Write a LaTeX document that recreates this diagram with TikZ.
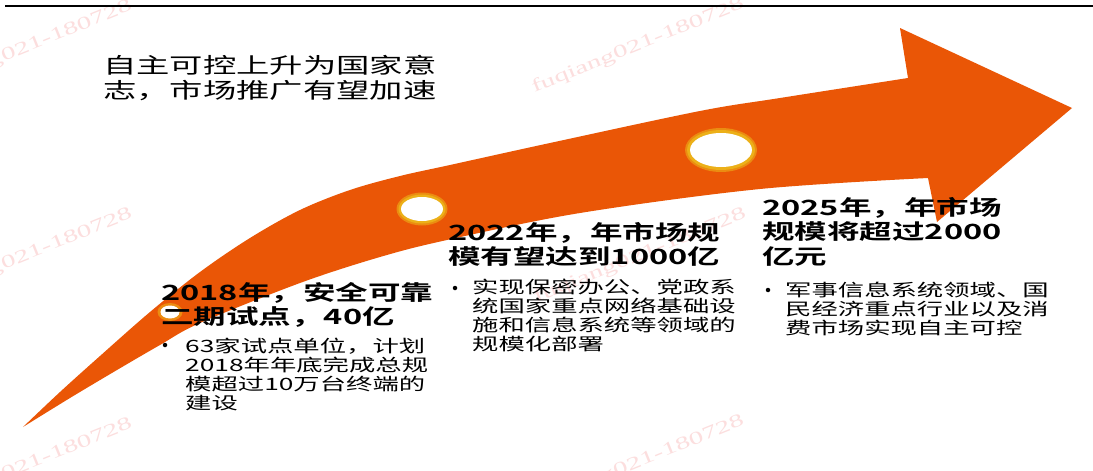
\documentclass[tikz,border=0pt]{standalone}
\usepackage{fontspec}
\newfontfamily\cjk[FakeStretch=1.55]{Noto Sans CJK SC}
\newfontfamily\cjkb[FakeStretch=1.55]{Noto Sans CJK SC Bold}
\newfontfamily\wmfont[FakeStretch=1.6]{Liberation Serif}
\definecolor{arrowc}{RGB}{234,86,6}
\definecolor{ringc}{RGB}{236,176,24}
\definecolor{wmc}{RGB}{252,222,222}
\tikzset{
  titlebox/.style={anchor=north west, inner sep=0pt, align=left, font=\cjk\fontsize{21.5}{25}\selectfont},
  headbox/.style={anchor=north west, inner sep=0pt, align=left, font=\cjkb\fontsize{21}{24.5}\selectfont},
  bodybox/.style={anchor=north west, inner sep=0pt, align=left, font=\cjk\fontsize{17}{19}\selectfont},
  bulletdot/.style={circle, fill=black, inner sep=0pt, minimum size=4.5pt},
  wmark/.style={rotate=22, text=wmc, font=\wmfont\fontsize{18}{18}\selectfont, inner sep=0pt},
}
\begin{document}
\begin{tikzpicture}[x=1pt,y=-1pt]
\useasboundingbox (0,0) rectangle (1093,471);
\fill[white] (0,0) rectangle (1093,471);
% watermarks
\begin{scope}
\clip (0,0) rectangle (1093,471);
\node[wmark] (w1) at (26,48) {fuqiang021-180728};
\node[wmark] (w2) at (638,46) {fuqiang021-180728};
\node[wmark] (w3) at (26,256) {fuqiang021-180728};
\node[wmark] (w4) at (640,256) {fuqiang021-180728};
\node[wmark] (w5) at (26,466) {fuqiang021-180728};
\node[wmark] (w6) at (638,463) {fuqiang021-180728};
\end{scope}
% top rule
\draw[line width=1.8pt] (5,6) -- (1093,6);
% big curved arrow
\fill[arrowc] plot[smooth, tension=0.55] coordinates {(23,427) (60,392) (100,356) (150,312) (200,272) (250,238) (300,210) (350,190) (400,176) (450,165) (550,143) (700,111) (780,98) (908,78)}
  -- (900,28) -- (1072,108) -- (937,222) -- (928,178)
  -- plot[smooth, tension=0.55] coordinates {(928,178) (760,189) (580,213) (447,240) (380,257) (300,283) (200,323) (160,345) (117,370) (70,398) (23,427)} -- cycle;
% circles
\fill[arrowc!40!ringc] (170,312) ellipse [x radius=12.5, y radius=9];
\fill[white] (170,312) ellipse [x radius=9.5, y radius=6.5];
\fill[arrowc!40!ringc] (422,209) ellipse [x radius=25.5, y radius=16.5];
\fill[ringc] (422,209) ellipse [x radius=23.5, y radius=14.5];
\fill[white] (422,209) ellipse [x radius=21, y radius=12];
\fill[arrowc!40!ringc] (721,150) ellipse [x radius=36, y radius=22];
\fill[ringc] (721,150) ellipse [x radius=34, y radius=20];
\fill[white] (721,150) ellipse [x radius=31, y radius=17];
% title
\node[titlebox] (title) at (103,55) {自主可控上升为国家意\\志，市场推广有望加速};
% 2018
\node[headbox] (h1) at (161,282) {2018年，安全可靠\\二期试点，40亿};
\node[bulletdot] (b1) at (165,345) {};
\node[bodybox] (t1) at (185,338) {63家试点单位，计划\\2018年年底完成总规\\模超过10万台终端的\\建设};
% 2022
\node[headbox] (h2) at (448,222) {2022年，年市场规\\模有望达到1000亿};
\node[bulletdot] (b2) at (455,288) {};
\node[bodybox] (t2) at (472,279) {实现保密办公、党政系\\统国家重点网络基础设\\施和信息系统等领域的\\规模化部署};
% 2025
\node[headbox] (h3) at (762,197) {2025年，年市场\\规模将超过2000\\亿元};
\node[bulletdot] (b3) at (768,290) {};
\node[bodybox] (t3) at (785,282) {军事信息系统领域、国\\民经济重点行业以及消\\费市场实现自主可控};
\end{tikzpicture}
\end{document}
